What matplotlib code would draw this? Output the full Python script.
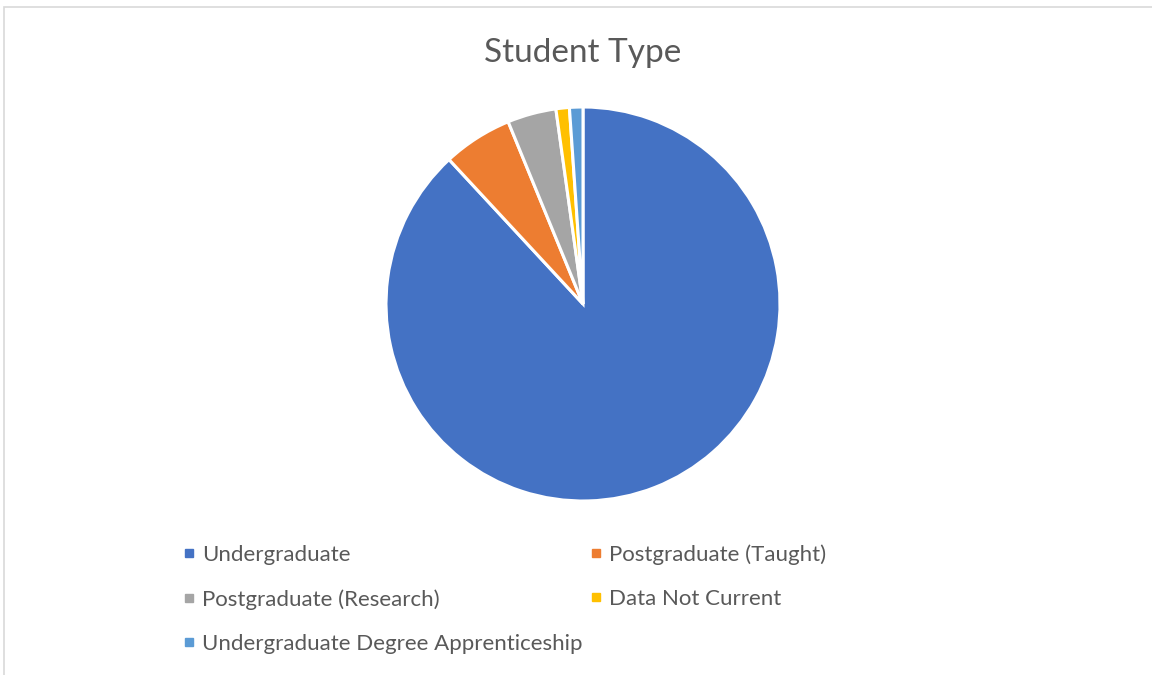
import matplotlib.pyplot as plt
from matplotlib.lines import Line2D
from matplotlib.patches import Rectangle

# Student type shares (%)
labels = ["Undergraduate", "Postgraduate (Taught)", "Postgraduate (Research)",
          "Data Not Current", "Undergraduate Degree Apprenticeship"]
shares = [88.1, 5.7, 4.0, 1.1, 1.1]
colors = ["#4472C4", "#ED7D31", "#A5A5A5", "#FFC000", "#5B9BD5"]

plt.rcParams['font.family'] = ['Lato', 'DejaVu Sans']

fig = plt.figure(figsize=(11.52, 6.75), dpi=100)

# chart border
fig.patches.append(Rectangle((3.5 / 1152, -0.01), 1.05, 668 / 675 + 0.01,
                             transform=fig.transFigure, fill=False,
                             edgecolor="#D9D9D9", linewidth=1.2))

ax = fig.add_axes([(583 - 197) / 1152, (675 - 501) / 675, 394 / 1152, 394 / 675])
ax.pie(shares, colors=colors, startangle=90, counterclock=False,
       wedgeprops=dict(edgecolor="white", linewidth=2.2))
ax.set_xlim(-1, 1)
ax.set_ylim(-1, 1)
ax.set_aspect("equal")

fig.text(583 / 1152, 1 - 53 / 675, "Student Type", ha="center", va="center",
         fontsize=24, color="#595959")

# legend laid out row-wise in two columns
order = [0, 2, 4, 1, 3]
handles = [Line2D([], [], marker="s", linestyle="none", markersize=6,
                  color=colors[i]) for i in order]
fig.legend(handles, [labels[i] for i in order], ncol=2, frameon=False,
           loc="upper left", bbox_to_anchor=(162 / 1152, 1 - 524 / 675),
           fontsize=16, labelcolor="#595959", handlelength=0.6,
           handletextpad=0.3, columnspacing=0.3, labelspacing=1.1)

fig.savefig("out.png", dpi=100)
